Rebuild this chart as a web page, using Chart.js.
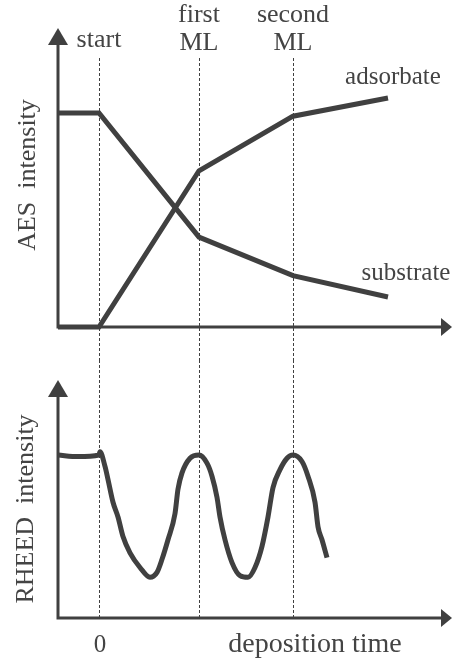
<!DOCTYPE html>
<html>
<head>
<meta charset="utf-8">
<script src="https://cdn.jsdelivr.net/npm/chart.js@4"></script>
<style>
  body { margin: 0; background: #fff; }
  #wrap { position: relative; width: 452px; height: 664px; }
  canvas { position: absolute; left: 0; }
  #aes { top: 0; }
  #rheed { top: 360px; }
</style>
</head>
<body>
<div id="wrap">
  <canvas id="aes" width="452" height="360"></canvas>
  <canvas id="rheed" width="452" height="304"></canvas>
</div>
<script>
// deposition time, arbitrary units (0 = shutter open)
var timeRange = [-41, 353];
var markTimes = [0, 100, 194];
var markLabels = [['start'], ['first', 'ML'], ['second', 'ML']];

// AES signals (normalised to the clean substrate level)
var aesTime = [-41, 0, 100, 194, 289];
var substrate = [1.0, 1.0, 0.42, 0.24, 0.14];
var adsorbate = [0.0, 0.0, 0.73, 0.985, 1.07];

// RHEED specular spot intensity
var rheedTime = [-41, -21, 0, 1, 6, 9, 14, 19, 24, 31, 41, 51, 58, 63, 69, 76, 79, 83, 91, 100,
                 108, 113, 118, 121, 126, 133, 141, 149, 156, 163, 169, 174, 181, 188, 194,
                 203, 209, 216, 219, 223, 228];
var rheedIntensity = [1.0, 0.99, 1.0, 1.02, 0.93, 0.85, 0.71, 0.62, 0.50, 0.40, 0.31, 0.25, 0.28, 0.36, 0.48, 0.64, 0.79, 0.89, 0.98, 1.0,
                      0.95, 0.87, 0.74, 0.62, 0.48, 0.34, 0.26, 0.25, 0.31, 0.44, 0.62, 0.80, 0.91, 0.98, 1.0,
                      0.96, 0.87, 0.71, 0.56, 0.48, 0.37];

var ink = '#404040';
var textInk = '#444444';
var serif = "'Liberation Serif', 'Times New Roman', serif";

function points(xs, ys) {
    return xs.map(function (x, i) { return { x: x, y: ys[i] }; });
}

// arrowed axes, dashed monolayer markers and the text around them
var framePlugin = {
    id: 'frame',
    beforeDatasetsDraw: function (chart, args, opts) {
        var ctx = chart.ctx;
        var area = chart.chartArea;
        var xs = chart.scales.x;
        ctx.save();
        // dashed markers
        ctx.strokeStyle = ink;
        ctx.lineWidth = 1;
        ctx.setLineDash([3, 2]);
        markTimes.forEach(function (t) {
            var px = Math.round(xs.getPixelForValue(t)) + 0.5;
            ctx.beginPath();
            ctx.moveTo(px, opts.dashTop);
            ctx.lineTo(px, opts.dashBottom === undefined ? area.bottom : opts.dashBottom);
            ctx.stroke();
        });
        ctx.setLineDash([]);
        // axes
        ctx.lineWidth = 3;
        ctx.beginPath();
        ctx.moveTo(area.left, area.bottom + 1.5);
        ctx.lineTo(area.left, area.top + 15);
        ctx.moveTo(area.left - 1.5, area.bottom);
        ctx.lineTo(area.right - 9, area.bottom);
        ctx.stroke();
        ctx.fillStyle = ink;
        ctx.beginPath();
        ctx.moveTo(area.left, area.top);
        ctx.lineTo(area.left - 10, area.top + 17);
        ctx.lineTo(area.left + 10, area.top + 17);
        ctx.closePath();
        ctx.fill();
        ctx.beginPath();
        ctx.moveTo(area.right, area.bottom);
        ctx.lineTo(area.right - 11, area.bottom - 9);
        ctx.lineTo(area.right - 11, area.bottom + 9);
        ctx.closePath();
        ctx.fill();
        ctx.restore();
    },
    afterDraw: function (chart, args, opts) {
        var ctx = chart.ctx;
        var xs = chart.scales.x;
        ctx.save();
        ctx.fillStyle = textInk;
        ctx.textBaseline = 'alphabetic';
        // labels over the dashed markers
        if (opts.markLabels) {
            markLabels.forEach(function (lines, i) {
                var px = xs.getPixelForValue(markTimes[i]);
                var last = lines.length === 1 ? 47 : 50;
                ctx.font = '26px ' + serif;
                ctx.textAlign = 'center';
                lines.forEach(function (s, j) {
                    ctx.fillText(s, px, last - (lines.length - 1 - j) * 28);
                });
            });
        }
        (opts.texts || []).forEach(function (t) {
            ctx.font = (t.size || 26) + 'px ' + serif;
            ctx.textAlign = t.align || 'center';
            ctx.save();
            ctx.translate(t.x, t.y);
            if (t.rotate) ctx.rotate(t.rotate);
            ctx.fillText(t.text, 0, 0);
            ctx.restore();
        });
        ctx.restore();
    }
};

function lineSet(data, width) {
    return {
        data: data,
        borderColor: ink,
        borderWidth: width,
        pointRadius: 0,
        fill: false,
        clip: false,
        borderCapStyle: 'butt',
        borderJoinStyle: 'miter'
    };
}

function baseOptions(padding, yMax, frame) {
    return {
        responsive: false,
        animation: false,
        layout: { padding: padding },
        plugins: { legend: { display: false }, tooltip: { enabled: false }, frame: frame },
        scales: {
            x: { type: 'linear', min: timeRange[0], max: timeRange[1], display: false },
            y: { type: 'linear', min: 0, max: yMax, display: false }
        }
    };
}

new Chart(document.getElementById('aes'), {
    type: 'line',
    data: {
        datasets: [
            lineSet(points(aesTime, substrate), 5),
            lineSet(points(aesTime, adsorbate), 5)
        ]
    },
    options: baseOptions({ left: 58, right: 0, top: 28, bottom: 33 }, 1.397, {
        dashTop: 58,
        dashBottom: 360,
        markLabels: true,
        texts: [
            { text: 'adsorbate', x: 393, y: 84, size: 25 },
            { text: 'substrate', x: 406, y: 280, size: 25 },
            { text: 'AES  intensity', x: 35, y: 175, rotate: -Math.PI / 2 }
        ]
    }),
    plugins: [framePlugin]
});

var rheedSet = lineSet(points(rheedTime, rheedIntensity), 5);
rheedSet.cubicInterpolationMode = 'monotone';
rheedSet.borderJoinStyle = 'round';

new Chart(document.getElementById('rheed'), {
    type: 'line',
    data: { datasets: [rheedSet] },
    options: baseOptions({ left: 58, right: 0, top: 20, bottom: 46 }, 1.46, {
        dashTop: 0,
        texts: [
            { text: '0', x: 100, y: 292, size: 25 },
            { text: 'deposition time', x: 315, y: 292, size: 28 },
            { text: 'RHEED  intensity', x: 33, y: 149, rotate: -Math.PI / 2 }
        ]
    }),
    plugins: [framePlugin]
});
</script>
</body>
</html>
